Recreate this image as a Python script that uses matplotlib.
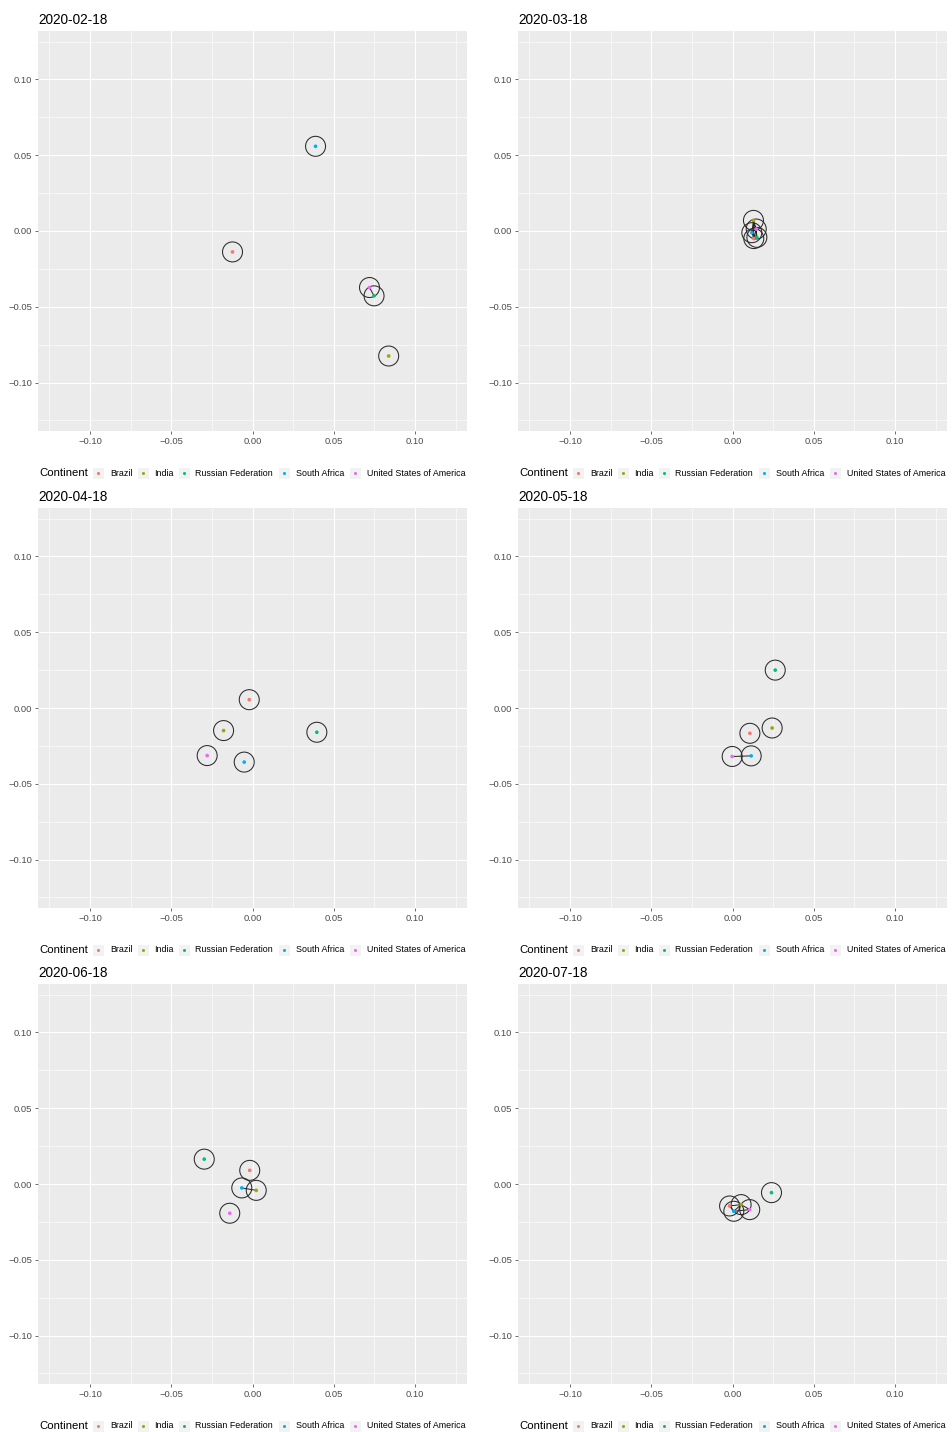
import numpy as np
import matplotlib.pyplot as plt
from matplotlib.patches import Rectangle
from matplotlib.lines import Line2D

plt.rcParams['font.family'] = ['Liberation Sans', 'DejaVu Sans']

# countries and their hue colours
countries = ['Brazil', 'India', 'Russian Federation', 'South Africa', 'United States of America']
colors = ['#F8766D', '#A3A500', '#00BF7D', '#00B0F6', '#E76BF3']
dates = ['2020-02-18', '2020-03-18', '2020-04-18', '2020-05-18', '2020-06-18', '2020-07-18']

# embedding coordinates per date (order follows countries)
x_feb = [-0.0123, 0.0838, 0.0748, 0.0388, 0.0720]
y_feb = [-0.0138, -0.0825, -0.0428, 0.0559, -0.0373]
x_mar = [0.0131, 0.0129, 0.0150, 0.0119, 0.0146]
y_mar = [-0.0050, 0.0070, -0.0042, -0.0011, 0.0013]
x_apr = [-0.0020, -0.0178, 0.0396, -0.0051, -0.0279]
y_apr = [0.0055, -0.0149, -0.0160, -0.0357, -0.0314]
x_may = [0.0107, 0.0244, 0.0263, 0.0115, -0.0002]
y_may = [-0.0167, -0.0132, 0.0250, -0.0316, -0.0320]
x_jun = [-0.0017, 0.0023, -0.0297, -0.0066, -0.0140]
y_jun = [0.0090, -0.0042, 0.0164, -0.0026, -0.0193]
x_jul = [-0.0018, 0.0053, 0.0240, 0.0008, 0.0106]
y_jul = [-0.0145, -0.0136, -0.0057, -0.0180, -0.0169]

# links between countries (index pairs)
edges_feb = [(2, 4)]
edges_mar = [(0, 1), (0, 2), (0, 3), (0, 4), (1, 2), (1, 3), (1, 4), (2, 3), (2, 4), (3, 4)]
edges_apr = []
edges_may = [(3, 4)]
edges_jun = [(1, 3)]
edges_jul = [(0, 1), (0, 3), (1, 3), (1, 4), (3, 4)]

xs = [x_feb, x_mar, x_apr, x_may, x_jun, x_jul]
ys = [y_feb, y_mar, y_apr, y_may, y_jun, y_jul]
edges = [edges_feb, edges_mar, edges_apr, edges_may, edges_jun, edges_jul]

ticks = [-0.10, -0.05, 0.00, 0.05, 0.10]
tick_labels = ['\u22120.10', '\u22120.05', '0.00', '0.05', '0.10']
minor_ticks = [-0.125, -0.075, -0.025, 0.025, 0.075, 0.125]

W, H = 952, 1432
fig = plt.figure(figsize=(W / 100, H / 100), dpi=100)

col_left = [38, 518]
row_top = [31, 508, 984]
ax_w, ax_h = 429, 400

# legend layout offsets (pixels from panel left edge)
key_dx = [60, 105, 146, 246, 317]
lab_dx = [72, 116, 157, 258, 329]


def fx(px):
    return px / W


def fy(py):
    return 1 - py / H


for i, date in enumerate(dates):
    r, c = divmod(i, 2)
    left, top = col_left[c], row_top[r]
    ax = fig.add_axes([fx(left), fy(top + ax_h), ax_w / W, ax_h / H])
    ax.set_facecolor('#EBEBEB')
    for s in ax.spines.values():
        s.set_visible(False)
    ax.set_xlim(-0.132, 0.132)
    ax.set_ylim(-0.132, 0.132)
    ax.set_xticks(ticks)
    ax.set_xticklabels(tick_labels)
    ax.set_yticks(ticks)
    ax.set_yticklabels(tick_labels)
    ax.set_xticks(minor_ticks, minor=True)
    ax.set_yticks(minor_ticks, minor=True)
    ax.grid(which='major', color='white', lw=0.8)
    ax.grid(which='minor', color='white', lw=0.4)
    ax.set_axisbelow(True)
    ax.tick_params(which='major', length=2.2, width=0.5, color='#333333',
                   labelsize=6.8, labelcolor='#4D4D4D', pad=2)
    ax.tick_params(which='minor', length=0)

    x, y = xs[i], ys[i]
    for a, b in edges[i]:
        ax.plot([x[a], x[b]], [y[a], y[b]], color='#222222', lw=0.7, zorder=2)
    ax.scatter(x, y, s=207, facecolors='none', edgecolors='#2a2a2a', linewidths=0.75, zorder=3)
    ax.scatter(x, y, s=7, c=colors, linewidths=0, zorder=4)

    fig.text(fx(left), fy(top - 7), date, fontsize=9.8, ha='left', va='baseline')

    # legend row under each panel
    yc = top + ax_h + 42
    fig.text(fx(left + 1), fy(yc), 'Continent', fontsize=8.2, ha='left', va='center')
    for k, name in enumerate(countries):
        kx = left + key_dx[k]
        fig.add_artist(Rectangle((fx(kx - 5.5), fy(yc + 5.5)), 11 / W, 11 / H,
                                 transform=fig.transFigure, facecolor='#F2F2F2',
                                 edgecolor='none'))
        fig.add_artist(Line2D([fx(kx)], [fy(yc)], marker='o', markersize=2.2,
                              color=colors[k], markeredgewidth=0,
                              transform=fig.transFigure))
        fig.text(fx(left + lab_dx[k]), fy(yc), name, fontsize=6.4, ha='left', va='center')

fig.savefig('out.png', dpi=100)
